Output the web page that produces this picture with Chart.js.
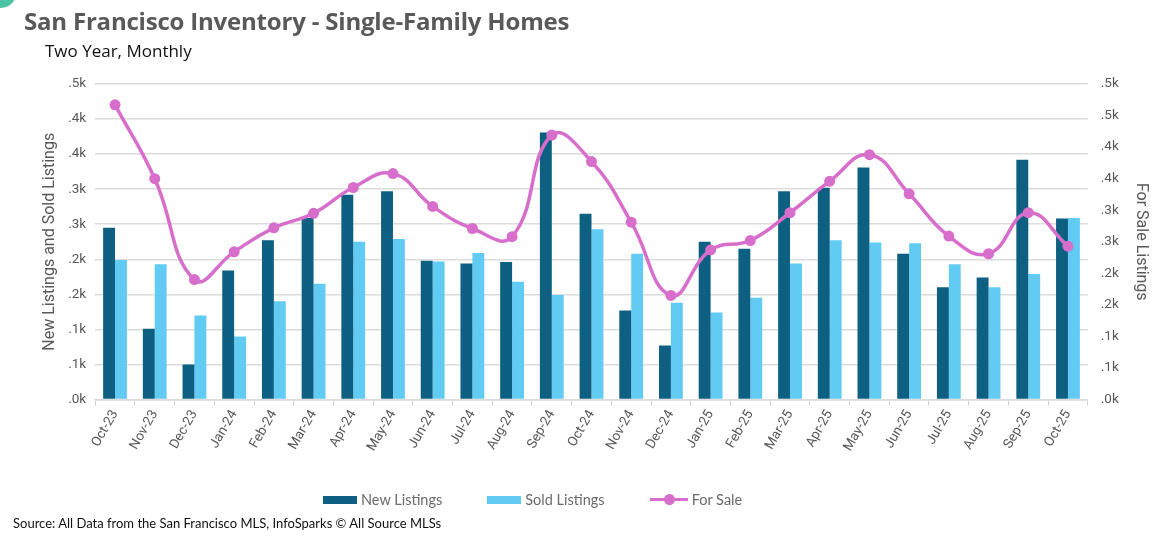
<!DOCTYPE html>
<html>
<head>
<meta charset="utf-8">
<script src="https://cdn.jsdelivr.net/npm/chart.js@4.4.1/dist/chart.umd.min.js"></script>
<style>
  html, body { margin: 0; padding: 0; background: #fff; }
  body { width: 1164px; height: 552px; position: relative; overflow: hidden; font-family: "Open Sans", "Noto Sans", sans-serif; }
  #wrap { position: absolute; left: 0; top: 0; width: 1164px; height: 552px; }
  .corner { position: absolute; left: -14px; top: -22px; width: 30px; height: 30px; border-radius: 50%; background: #4cc3a5; }
  .title { position: absolute; left: 24px; top: 4px; font-size: 24px; font-weight: 700; color: #595959; letter-spacing: -0.2px; }
  .sub { position: absolute; left: 45px; top: 39px; font-size: 17px; color: #111; }
  .legend { position: absolute; top: 491px; left: 323px; display: flex; gap: 45px; font-family: Lato, "Noto Sans", sans-serif; font-size: 14.5px; color: #6b6b6b; }
  .legend span { display: inline-flex; align-items: center; gap: 4px; }
  .sw { display: inline-block; width: 34px; height: 8px; }
  .ln { display: inline-block; width: 38px; height: 3px; background: #d86ecc; position: relative; }
  .ln::after { content: ""; position: absolute; left: 14px; top: -4px; width: 11px; height: 11px; border-radius: 50%; background: #d86ecc; }
  .src { position: absolute; left: 13px; top: 515px; font-size: 13px; color: #111; font-family: Lato, "Noto Sans", sans-serif; }
</style>
</head>
<body>
<div class="corner"></div>
<div id="wrap"><canvas id="c"></canvas></div>
<div class="title">San Francisco Inventory - Single-Family Homes</div>
<div class="sub">Two Year, Monthly</div>
<div class="legend">
  <span><i class="sw" style="background:#0e6083"></i>New Listings</span>
  <span><i class="sw" style="background:#61cbf3"></i>Sold Listings</span>
  <span><i class="ln"></i>For Sale</span>
</div>
<div class="src">Source: All Data from the San Francisco MLS, InfoSparks © All Source MLSs</div>
<script>
// San Francisco SFH inventory, Oct-23 .. Oct-25
const MONTHS = ["Oct-23","Nov-23","Dec-23","Jan-24","Feb-24","Mar-24","Apr-24","May-24","Jun-24","Jul-24",
  "Aug-24","Sep-24","Oct-24","Nov-24","Dec-24","Jan-25","Feb-25","Mar-25","Apr-25","May-25",
  "Jun-25","Jul-25","Aug-25","Sep-25","Oct-25"];
const NEW_LISTINGS = [245,101,50,184,227,259,292,297,198,194,
  196,381,265,127,77,225,215,297,302,331,
  208,160,174,342,258];
const SOLD_LISTINGS = [199,193,120,90,140,165,225,229,197,209,
  168,149,243,208,138,124,145,194,227,224,
  223,193,160,179,259];
const FOR_SALE = [467,350,190,234,272,295,336,358,306,271,
  258,419,377,281,165,237,252,296,346,388,
  326,259,231,296,243];
const LEFT_TICKS = [".0k",".1k",".1k",".2k",".2k",".3k",".3k",".4k",".4k",".5k"];
const RIGHT_TICKS = [".0k",".1k",".1k",".2k",".2k",".3k",".3k",".4k",".4k",".5k",".5k"];

const DARK = "#0e6083", LIGHT = "#61cbf3", ORCHID = "#d86ecc", GRID = "#dcdcdc", INK = "#595959";
const tickFont = { family: "Roboto, 'Liberation Sans', sans-serif", size: 13.5 };
const titleFont = { family: "Roboto, 'Liberation Sans', sans-serif", size: 16 };

new Chart(document.getElementById("c"), {
  data: {
    labels: MONTHS,
    datasets: [
      { type: "line", label: "For Sale", data: FOR_SALE, yAxisID: "y1", order: 0,
        borderColor: ORCHID, backgroundColor: ORCHID, borderWidth: 3.5, tension: 0.45,
        pointRadius: 5.5, pointBackgroundColor: ORCHID, pointBorderWidth: 0 },
      { type: "bar", label: "New Listings", data: NEW_LISTINGS, yAxisID: "y", order: 1,
        backgroundColor: DARK, barPercentage: 1, categoryPercentage: 0.6 },
      { type: "bar", label: "Sold Listings", data: SOLD_LISTINGS, yAxisID: "y", order: 2,
        backgroundColor: LIGHT, barPercentage: 1, categoryPercentage: 0.6 },
    ]
  },
  options: {
    responsive: true, maintainAspectRatio: false, animation: false,
    layout: { padding: { top: 84, left: 40, right: 10, bottom: 96 } },
    plugins: { legend: { display: false }, tooltip: { enabled: false } },
    scales: {
      x: {
        offset: true,
        grid: { offset: true, drawOnChartArea: false, drawTicks: true, tickLength: 6, color: "#cfcfcf" },
        border: { color: GRID, width: 1.5 },
        ticks: { color: INK, font: tickFont, maxRotation: 60, minRotation: 60, padding: 2, autoSkip: false }
      },
      y: {
        position: "left", min: 0, max: 450,
        grid: { color: GRID, lineWidth: 1.5, drawTicks: false },
        border: { display: false },
        ticks: { stepSize: 50, color: INK, font: tickFont, padding: 9,
          callback: (v, i) => LEFT_TICKS[i] },
        title: { display: true, text: "New Listings and Sold Listings", color: INK, font: titleFont, padding: 0 }
      },
      y1: {
        position: "right", min: 0, max: 500,
        grid: { drawOnChartArea: false, drawTicks: false },
        border: { display: false },
        ticks: { stepSize: 50, color: INK, font: tickFont, padding: 13,
          callback: (v, i) => RIGHT_TICKS[i] },
        title: { display: true, text: "For Sale Listings", color: INK, font: titleFont, padding: { top: 3, bottom: 0 } }
      }
    }
  }
});
</script>
</body>
</html>
